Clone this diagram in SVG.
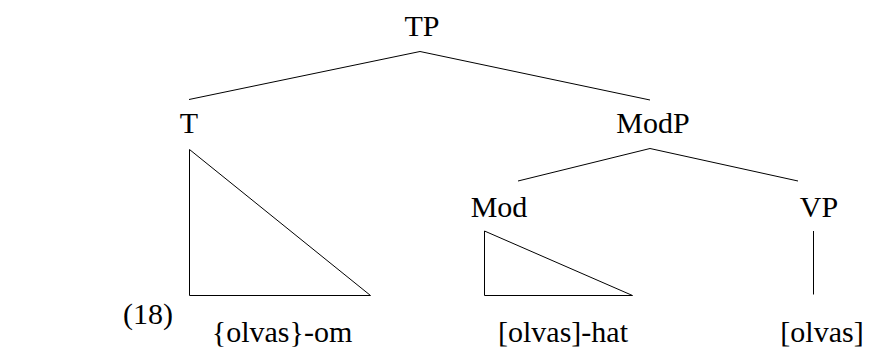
<svg xmlns="http://www.w3.org/2000/svg" width="874" height="352" viewBox="0 0 874 352">
  <style>
    text { font-family: 'Times New Roman', Times, Tinos, 'Nimbus Roman', 'Nimbus Roman No9 L', FreeSerif, 'Noto Serif', 'Liberation Serif', 'DejaVu Serif', Georgia, serif; font-size: 30px; fill: #000; text-anchor: middle; }
    .edge { stroke: #000; stroke-width: 1; fill: none; }
  </style>
  <rect width="874" height="352" fill="#fff"/>

  <!-- branches -->
  <g id="connectors">
    <polyline class="edge" points="189,99.5 420,51.5 650,100"/>
    <polyline class="edge" points="518,181 650,148.5 798,181"/>
    <polygon class="edge" points="189.5,149.5 189.5,295.5 370.5,295.5"/>
    <polygon class="edge" points="484.5,231 484.5,295.5 632.5,295.5"/>
    <line class="edge" x1="813.5" y1="231" x2="813.5" y2="294.5"/>
  </g>

  <g id="tp"><text x="422" y="36">TP</text></g>
  <g id="t"><text x="189" y="133">T</text></g>
  <g id="modp"><text x="653" y="133">ModP</text></g>
  <g id="mod"><text x="499" y="217">Mod</text></g>
  <g id="vp"><text x="819" y="217">VP</text></g>
  <g id="t-exp"><text x="282" y="342">{olvas}-om</text></g>
  <g id="mod-exp"><text x="563" y="342">[olvas]-hat</text></g>
  <g id="vp-exp"><text x="822" y="342">[olvas]</text></g>
  <g id="ex-num"><text x="148" y="324">(18)</text></g>
</svg>
